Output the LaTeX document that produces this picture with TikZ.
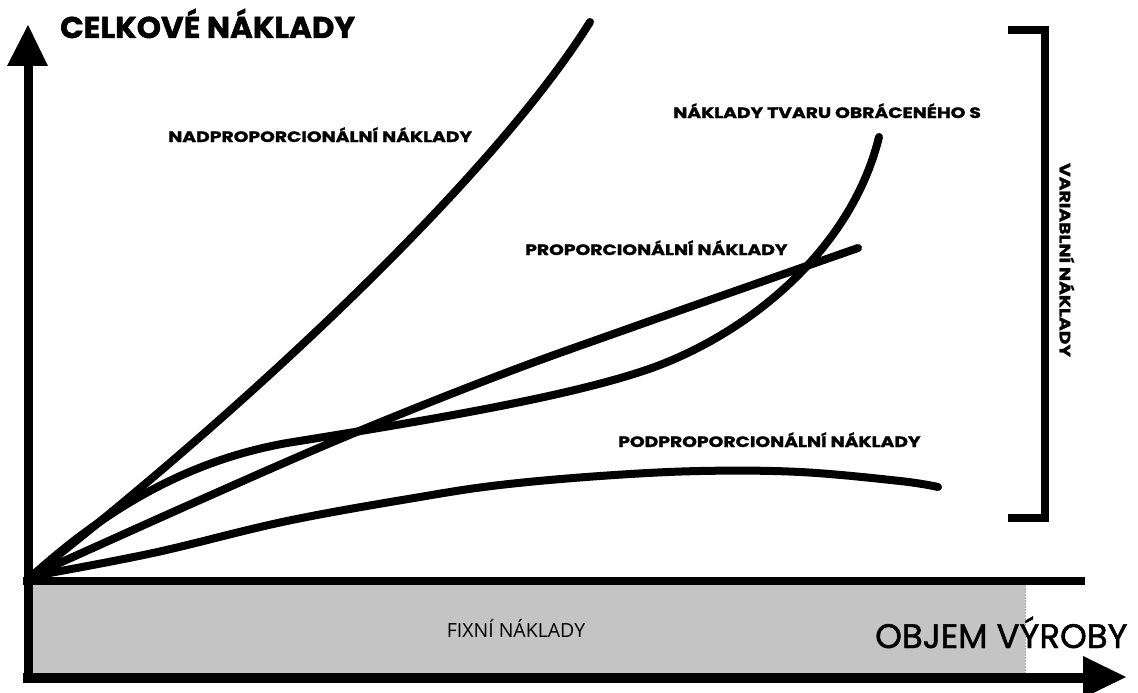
\documentclass[tikz,border=0pt]{standalone}
\usepackage{fontspec}
\setmainfont{Poppins}
\newfontfamily\plainsans{Open Sans}
% heavy, widened caps for the curve labels
\newfontfamily\heavy{Poppins}[BoldFeatures={FakeBold=1.6,FakeStretch=1.25}]
\newfontfamily\titlefont{Poppins}[BoldFeatures={FakeBold=1.6,FakeStretch=1.03}]
\newfontfamily\axisfont{Poppins}[FakeBold=1.4]
\begin{document}
\begin{tikzpicture}[x=1pt,y=-1pt,
  curve/.style={line width=8pt,line cap=round,line join=round},
  axisline/.style={line width=9pt},
  tip/.style={fill=black},
  smalllabel/.style={font=\fontsize{15}{15}\heavy\bfseries,inner sep=0pt},
  biglabel/.style={font=\fontsize{30}{30}\titlefont\bfseries,inner sep=0pt},
  axislabel/.style={font=\fontsize{34}{34}\axisfont,inner sep=0pt}]
\useasboundingbox (0,0) rectangle (1138,693);

% fixed costs band
\fill[fill={rgb,255:red,196;green,196;blue,196}] (32,585) rectangle (1025,673);
\draw[gray!70,line width=0.6pt,dash pattern=on 2pt off 1pt] (1025,585) -- (1025,673);
\node[font=\fontsize{19.5}{19.5}\plainsans,anchor=base,inner sep=0pt] (fixed) at (516,637) {FIXNÍ NÁKLADY};

% axes
\coordinate (ybot) at (28,683);
\coordinate (ytop) at (28,62);
\coordinate (xleft) at (23,678);
\coordinate (xright) at (1086,678);
\draw[axisline] (ybot) -- (ytop);
\fill[tip] (28,25) -- (48,66) -- (7,66) -- cycle;
\draw[line width=10pt] (xleft) -- (xright);
\fill[tip] (1126,677) -- (1083,656) -- (1083,698) -- cycle;
\draw[line width=8pt] (23,581) -- (1085,581);

% cost curves
\coordinate (O) at (33,575);
\draw[curve] (O) .. controls (233,419) and (490,182) .. (590,22);
\draw[curve] (O) .. controls (100,515) and (180,462) .. (287,443)
  .. controls (430,420) and (560,398) .. (640,372)
  .. controls (740,340) and (850,255) .. (879,137);
\draw[curve] plot[smooth,tension=0.6] coordinates
  {(33,575) (200,500) (347,436) (500,375) (633,327) (858,248)};
\draw[curve] plot[smooth,tension=0.6] coordinates
  {(33,576) (153,553) (287,521) (420,497) (500,485) (600,476) (700,471) (800,472) (900,481) (938,487)};

% bracket of the variable costs
\draw[line width=8pt] (1008,30) -- (1045,30) -- (1045,518) -- (1008,518);
\node[smalllabel,rotate=-90] (var) at (1067,260) {VARIABLNÍ NÁKLADY};

% labels
\node[biglabel,anchor=base west] (ylab) at (60,38) {CELKOVÉ NÁKLADY};
\node[axislabel,anchor=base west] (xlab) at (875,648) {OBJEM VÝROBY};
\node[smalllabel,anchor=base west] (nad) at (168,142) {NADPROPORCIONÁLNÍ NÁKLADY};
\node[smalllabel,anchor=base west] (obr) at (673,118) {NÁKLADY TVARU OBRÁCENÉHO S};
\node[smalllabel,anchor=base west] (pro) at (525,255) {PROPORCIONÁLNÍ NÁKLADY};
\node[smalllabel,anchor=base west] (pod) at (618,447) {PODPROPORCIONÁLNÍ NÁKLADY};
\end{tikzpicture}
\end{document}
